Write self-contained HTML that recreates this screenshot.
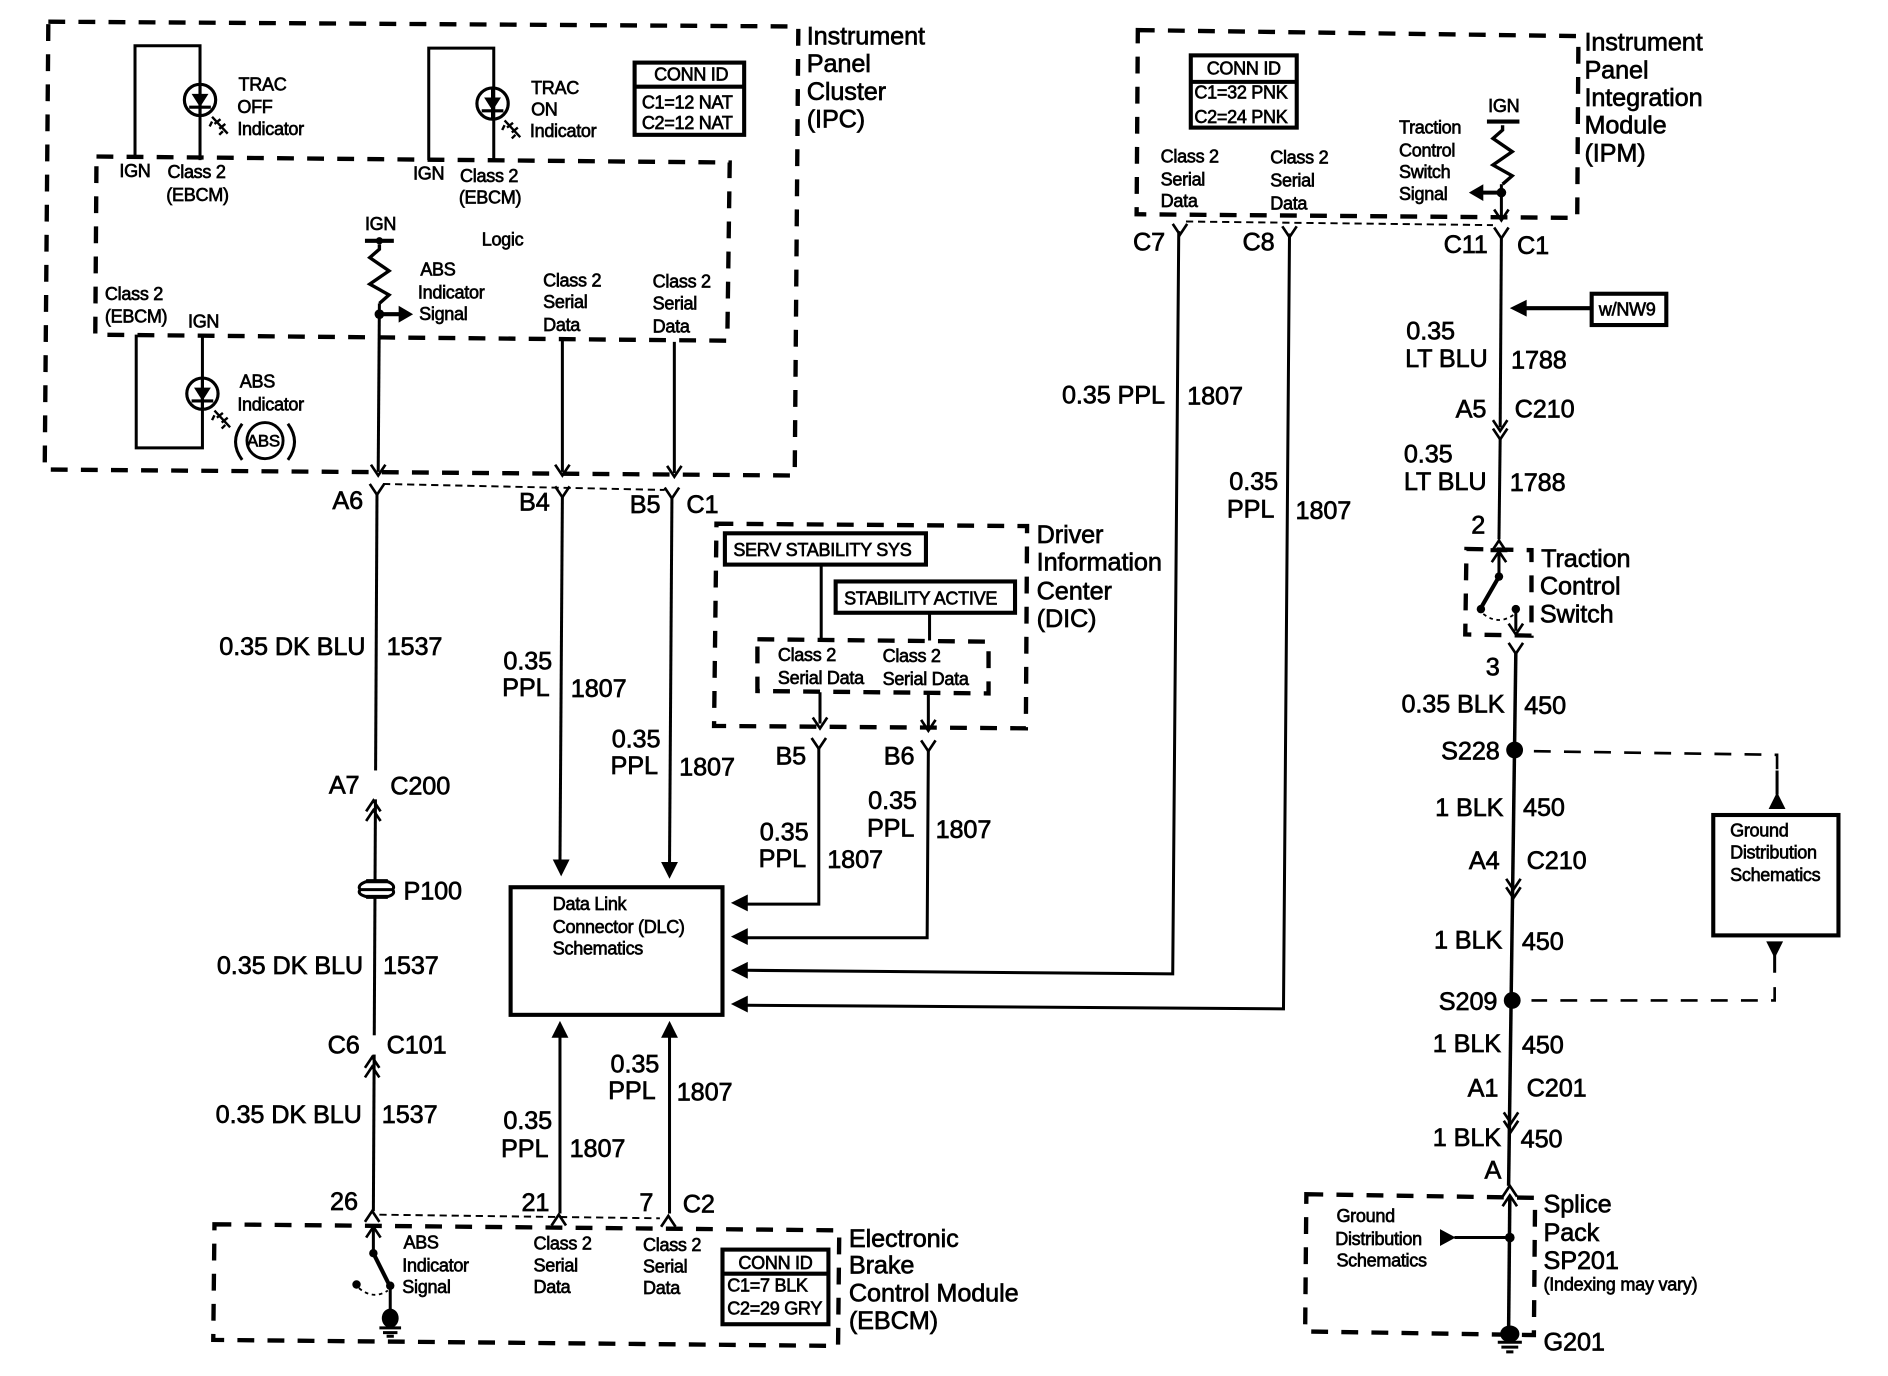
<!DOCTYPE html>
<html><head><meta charset="utf-8"><style>
html,body{margin:0;padding:0;background:#fff}
svg{display:block}
text{font-family:"Liberation Sans",sans-serif;fill:#000;stroke:#000;stroke-width:.55}
.l text{font-size:21px;letter-spacing:-.1px}
.s text{font-size:15px;letter-spacing:-.25px}
.w{fill:none;stroke:#000;stroke-width:2.5}
.t{fill:none;stroke:#000;stroke-width:3.4}
.r{fill:none;stroke:#000;stroke-width:2.9}
.d{fill:none;stroke:#000;stroke-width:3.6;stroke-dasharray:14 11}
.dn{fill:none;stroke:#000;stroke-width:1.6;stroke-dasharray:6 4}
.dm{fill:none;stroke:#000;stroke-width:2.2;stroke-dasharray:14 11}
.b{fill:#000}
</style></head><body>
<svg width="1888" height="1376" viewBox="0 0 1568 1143" xmlns="http://www.w3.org/2000/svg">
<defs>
<path id="y" d="M-6,-8 L0,1 L6,-8" fill="none" stroke="#000" stroke-width="2.2"/>
<path id="u" d="M-6,7 L0,-2 L6,7" fill="none" stroke="#000" stroke-width="2.2"/>
<path id="v" d="M-6,-8 L0,1 L6,-8" fill="none" stroke="#000" stroke-width="2.2"/>
<path id="au" d="M0,0 L-7,14 L7,14Z" fill="#000"/>
<g id="led" fill="none" stroke="#000" stroke-width="2.6">
<circle r="13"/><path d="M-7,-5 L7,-5 L0,6Z" fill="#000" stroke="none"/><path d="M-9,6 L9,6"/><path d="M0,-13V13"/>
</g>
<g id="ray" fill="none" stroke="#000" stroke-width="2"><path d="M0,0 L13,14 M2,6 L7,2 M6,10 L11,6 M0,4 L-2,8 M9,12 L6,15"/></g>
<path id="res" d="M0,0 L0,4 L-8,11 L8,22 L-8,33 L8,42 L0,49" fill="none" stroke="#000" stroke-width="2.8"/>
</defs>

<!-- dashed boxes -->
<path class="d" d="M40,18 L663,22 L660,395 L37,390Z"/>
<path class="d" d="M80,130 L606,135 L604,283 L79,278Z"/>
<path class="d" d="M945,25 L1311,30 L1310,181 L944,178Z"/>
<path class="d" d="M595,435 L853,437 L852,605 L593,603Z"/>
<path class="d" d="M629,531 L821,533 L821,576 L629,574Z"/>
<path class="d" d="M1218,456 L1272,457 L1272,528 L1217,527Z"/>
<path class="d" d="M178,1017 L697,1022 L696,1118 L177,1113Z"/>
<path class="d" d="M1085,992 L1275,995 L1274,1109 L1084,1106Z"/>
<path class="dn" d="M318,402 L552,407"/>
<path class="dn" d="M985,184 L1240,187"/>
<path class="dn" d="M315,1009 L548,1012"/>
<path class="dm" d="M1274,624 L1476,627 L1476,640"/>
<path class="dm" d="M1474,820 L1474,831 L1272,831"/>

<!-- IPC content -->
<path class="w" d="M112,130 V38 H166 V133"/>
<path class="w" d="M356,133 V40 H410 V133"/>
<use href="#led" x="166" y="83"/><use href="#ray" x="176" y="97"/>
<use href="#led" x="409" y="86"/><use href="#ray" x="419" y="100"/>
<path class="w" d="M113,278 V372 H168 V280"/>
<use href="#led" x="168" y="327"/><use href="#ray" x="178" y="341"/>
<circle cx="220" cy="366" r="15" fill="none" stroke="#000" stroke-width="2.4"/>
<path class="w" d="M201,352 Q190,367 201,382 M239,352 Q250,367 239,382"/>
<rect x="527" y="52" width="91" height="60" class="t" fill="none"/><path class="t" d="M527,72 H618"/>
<path class="t" d="M303,200 H327"/><circle cx="315" cy="200" r="3" class="b"/>
<use href="#res" x="315" y="203"/>
<circle cx="315" cy="261" r="4" class="b"/>
<path class="t" d="M315,261 H332"/><path class="b" d="M343,261 L331,254 V268Z"/>
<path class="w" d="M315,252 L314,392"/><use href="#v" x="314" y="394"/>
<path class="w" d="M467,283 V392"/><use href="#v" x="467" y="394"/>
<path class="w" d="M560,284 V393"/><use href="#v" x="560" y="395"/>

<!-- left wires -->
<use href="#y" x="313" y="410"/><use href="#y" x="467" y="412"/><use href="#y" x="558" y="413"/>
<path class="w" d="M313,410 L310,1006"/>
<rect x="300" y="640" width="20" height="24" fill="#fff"/>
<use href="#u" x="310" y="667"/><use href="#u" x="310" y="675"/>
<rect x="300" y="860" width="20" height="16" fill="#fff"/>
<use href="#u" x="309" y="880"/><use href="#u" x="309" y="888"/>
<rect x="298" y="733" width="30" height="11" fill="#fff"/>
<path class="t" d="M304,732 H322 M304,745 H322"/>
<path class="w" d="M305,732 Q296,735 299,739 H326 Q329,735 321,732 M305,745 Q296,743 299,739 M326,739 Q329,743 321,745"/>
<use href="#u" x="309" y="1008"/>
<path class="w" d="M467,412 L465,716"/><path class="b" d="M466,728 L459,714 H473Z"/>
<path class="w" d="M558,413 L556,718"/><path class="b" d="M556,730 L549,716 H563Z"/>
<rect x="424" y="737" width="176" height="106" fill="none" class="t"/>
<path class="w" d="M465,860 V1008"/><use href="#au" x="465" y="848"/>
<path class="w" d="M556,860 V1008"/><use href="#au" x="556" y="848"/>
<use href="#u" x="464" y="1011"/><use href="#u" x="555" y="1012"/>

<!-- DIC -->
<rect x="602" y="443" width="167" height="26" fill="#fff" class="t"/>
<rect x="694" y="483" width="149" height="26" fill="#fff" class="t"/>
<path class="w" d="M682,469 V530 M772,509 V532"/>
<path class="w" d="M681,575 V601 M771,577 V603"/><use href="#v" x="681" y="604"/><use href="#v" x="771" y="606"/>
<use href="#y" x="680" y="621"/><use href="#y" x="771" y="623"/>
<path class="w" d="M680,621 V751 H620"/><path class="b" d="M607,750 L621,743 V757Z"/>
<path class="w" d="M771,623 L770,779 H620"/><path class="b" d="M607,778 L621,771 V785Z"/>
<path class="w" d="M979,192 L974,809 L620,806"/><path class="b" d="M607,806 L621,799 V813Z"/>
<path class="w" d="M1071,194 L1066,838 L620,835"/><path class="b" d="M607,834 L621,827 V841Z"/>

<!-- IPM -->
<rect x="989" y="46" width="88" height="60" fill="none" class="t"/><path class="t" d="M989,68 H1077"/>
<path class="t" d="M1235,101 H1262"/><use href="#res" x="1248" y="104"/>
<circle cx="1247" cy="160" r="4" class="b"/>
<path class="t" d="M1230,160 H1247"/><path class="b" d="M1220,160 L1232,153 V167Z"/>
<path class="w" d="M1247,153 V180"/><use href="#v" x="1247" y="182"/>
<use href="#y" x="980" y="194"/><use href="#y" x="1071" y="196"/><use href="#y" x="1247" y="197"/>
<path class="w" d="M1247,197 L1246,355"/><use href="#v" x="1246" y="357"/><use href="#v" x="1246" y="364"/>
<rect x="1322" y="244" width="62" height="26" fill="none" class="t"/>
<path class="t" d="M1266,256 H1322"/><path class="b" d="M1254,256 L1268,249 V263Z"/>
<path class="w" d="M1246,364 L1245,448"/><use href="#u" x="1245" y="451"/>
<!-- switch -->
<path class="t" d="M1238,457 H1252"/><use href="#u" x="1245" y="460"/>
<path class="w" d="M1245,458 V478"/><circle cx="1245" cy="479" r="3.5" class="b"/>
<path class="t" d="M1245,479 L1230,505"/><circle cx="1230" cy="506" r="3.5" class="b"/>
<path d="M1232,510 Q1245,520 1258,510" fill="none" stroke="#000" stroke-width="1.5" stroke-dasharray="3 3"/>
<circle cx="1259" cy="506" r="3.5" class="b"/><path class="w" d="M1259,506 V524"/><use href="#v" x="1259" y="526"/>
<use href="#y" x="1259" y="542"/>
<path class="r" d="M1259,542 L1253,985"/>
<use href="#v" x="1257" y="738"/><use href="#v" x="1257" y="745"/>
<use href="#v" x="1255" y="932"/><use href="#v" x="1255" y="939"/>
<circle cx="1258" cy="623" r="7" class="b"/><circle cx="1256" cy="831" r="7" class="b"/>
<rect x="1423" y="677" width="104" height="100" fill="none" class="t"/>
<path class="w" d="M1476,640 V660 M1474,792 V808"/><path class="b" d="M1476,658 L1469,672 H1483Z"/><path class="b" d="M1474,796 L1467,782 H1481Z"/>
<use href="#u" x="1254" y="987"/><use href="#u" x="1254" y="995"/>
<path class="r" d="M1254,995 L1253,1105"/>
<circle cx="1254" cy="1028" r="4" class="b"/><path class="w" d="M1208,1028 H1254"/><path class="b" d="M1209,1028 L1196,1021 V1035Z"/>
<ellipse cx="1254" cy="1108" rx="8" ry="7" class="b"/>
<path class="w" d="M1244,1115 H1264 M1247,1119 H1261 M1251,1123 H1257"/>

<!-- EBCM -->
<rect x="600" y="1038" width="88" height="62" fill="none" class="t"/><path class="t" d="M600,1058 H688"/>
<use href="#u" x="310" y="1021"/><path class="w" d="M310,1019 V1040"/><circle cx="310" cy="1041" r="3.5" class="b"/>
<path class="t" d="M310,1041 L323,1067"/><circle cx="324" cy="1068" r="3.5" class="b"/><circle cx="296" cy="1067" r="3.5" class="b"/>
<path d="M298,1070 Q310,1080 322,1072" fill="none" stroke="#000" stroke-width="1.5" stroke-dasharray="3 3"/>
<path class="w" d="M324,1068 V1092"/><ellipse cx="324" cy="1095" rx="7" ry="8" class="b"/>
<path class="w" d="M315,1103 H333 M318,1107 H330 M321,1110 H327"/>

<g class="l">
<text x="670" y="37">Instrument</text><text x="670" y="60">Panel</text><text x="670" y="83">Cluster</text><text x="670" y="106">(IPC)</text>
<text x="1316" y="42">Instrument</text><text x="1316" y="65">Panel</text><text x="1316" y="88">Integration</text><text x="1316" y="111">Module</text><text x="1316" y="134">(IPM)</text>
<text x="861" y="451">Driver</text><text x="861" y="474">Information</text><text x="861" y="498">Center</text><text x="861" y="521">(DIC)</text>
<text x="705" y="1036">Electronic</text><text x="705" y="1058">Brake</text><text x="705" y="1081">Control Module</text><text x="705" y="1104">(EBCM)</text>
<text x="1280" y="471">Traction</text><text x="1279" y="494">Control</text><text x="1279" y="517">Switch</text>
<text x="1282" y="1007">Splice</text><text x="1282" y="1031">Pack</text><text x="1282" y="1054">SP201</text><text x="1282" y="1122">G201</text>
<text x="276" y="423">A6</text><text x="431" y="424">B4</text><text x="523" y="426">B5</text><text x="570" y="426">C1</text>
<text x="182" y="544">0.35 DK BLU</text><text x="321" y="544">1537</text>
<text x="273" y="659">A7</text><text x="324" y="660">C200</text><text x="335" y="747">P100</text>
<text x="180" y="809">0.35 DK BLU</text><text x="318" y="809">1537</text>
<text x="272" y="875">C6</text><text x="321" y="875">C101</text>
<text x="179" y="933">0.35 DK BLU</text><text x="317" y="933">1537</text>
<text x="274" y="1005">26</text><text x="433" y="1006">21</text><text x="531" y="1006">7</text><text x="567" y="1007">C2</text>
<text x="418" y="556">0.35</text><text x="417" y="578">PPL</text><text x="474" y="579">1807</text>
<text x="508" y="621">0.35</text><text x="507" y="643">PPL</text><text x="564" y="644">1807</text>
<text x="418" y="938">0.35</text><text x="416" y="961">PPL</text><text x="473" y="961">1807</text>
<text x="507" y="891">0.35</text><text x="505" y="913">PPL</text><text x="562" y="914">1807</text>
<text x="644" y="635">B5</text><text x="734" y="635">B6</text>
<text x="631" y="698">0.35</text><text x="630" y="720">PPL</text><text x="687" y="721">1807</text>
<text x="721" y="672">0.35</text><text x="720" y="695">PPL</text><text x="777" y="696">1807</text>
<text x="941" y="208">C7</text><text x="1032" y="208">C8</text>
<text x="882" y="335">0.35 PPL</text><text x="986" y="336">1807</text>
<text x="1021" y="407">0.35</text><text x="1019" y="430">PPL</text><text x="1076" y="431">1807</text>
<text x="1199" y="210">C11</text><text x="1260" y="211">C1</text>
<text x="1168" y="282">0.35</text><text x="1167" y="305">LT BLU</text><text x="1255" y="306">1788</text>
<text x="1209" y="347">A5</text><text x="1258" y="347">C210</text>
<text x="1166" y="384">0.35</text><text x="1166" y="407">LT BLU</text><text x="1254" y="408">1788</text>
<text x="1222" y="443">2</text><text x="1234" y="561">3</text>
<text x="1164" y="592">0.35 BLK</text><text x="1266" y="593">450</text>
<text x="1197" y="631">S228</text>
<text x="1192" y="678">1 BLK</text><text x="1265" y="678">450</text>
<text x="1220" y="722">A4</text><text x="1268" y="722">C210</text>
<text x="1191" y="788">1 BLK</text><text x="1264" y="789">450</text>
<text x="1195" y="839">S209</text>
<text x="1190" y="874">1 BLK</text><text x="1264" y="875">450</text>
<text x="1219" y="911">A1</text><text x="1268" y="911">C201</text>
<text x="1190" y="952">1 BLK</text><text x="1263" y="953">450</text>
<text x="1233" y="979">A</text>
</g>

<g class="s">
<text x="198" y="75">TRAC</text><text x="197" y="94">OFF</text><text x="197" y="112">Indicator</text>
<text x="99" y="147">IGN</text><text x="139" y="148">Class 2</text><text x="138" y="167">(EBCM)</text>
<text x="441" y="78">TRAC</text><text x="441" y="96">ON</text><text x="440" y="114">Indicator</text>
<text x="343" y="149">IGN</text><text x="382" y="151">Class 2</text><text x="381" y="169">(EBCM)</text>
<text x="574" y="67" text-anchor="middle">CONN ID</text><text x="533" y="90">C1=12 NAT</text><text x="533" y="107">C2=12 NAT</text>
<text x="303" y="191">IGN</text><text x="400" y="204">Logic</text>
<text x="349" y="229">ABS</text><text x="347" y="248">Indicator</text><text x="348" y="266">Signal</text>
<text x="451" y="238">Class 2</text><text x="451" y="256">Serial</text><text x="451" y="275">Data</text>
<text x="542" y="239">Class 2</text><text x="542" y="257">Serial</text><text x="542" y="276">Data</text>
<text x="87" y="249">Class 2</text><text x="87" y="268">(EBCM)</text><text x="156" y="272">IGN</text>
<text x="199" y="322">ABS</text><text x="197" y="341">Indicator</text><text x="205" y="371" style="font-size:14px">ABS</text>
<text x="459" y="756">Data Link</text><text x="459" y="775">Connector (DLC)</text><text x="459" y="793">Schematics</text>
<text x="609" y="462">SERV STABILITY SYS</text><text x="701" y="502">STABILITY ACTIVE</text>
<text x="646" y="549">Class 2</text><text x="646" y="568">Serial Data</text><text x="733" y="550">Class 2</text><text x="733" y="569">Serial Data</text>
<text x="1033" y="62" text-anchor="middle">CONN ID</text><text x="992" y="82">C1=32 PNK</text><text x="992" y="102">C2=24 PNK</text>
<text x="964" y="135">Class 2</text><text x="964" y="154">Serial</text><text x="964" y="172">Data</text>
<text x="1055" y="136">Class 2</text><text x="1055" y="155">Serial</text><text x="1055" y="174">Data</text>
<text x="1162" y="111">Traction</text><text x="1162" y="130">Control</text><text x="1162" y="148">Switch</text><text x="1162" y="166">Signal</text>
<text x="1236" y="93">IGN</text><text x="1328" y="262">w/NW9</text>
<text x="1437" y="695">Ground</text><text x="1437" y="713">Distribution</text><text x="1437" y="732">Schematics</text>
<text x="1110" y="1015">Ground</text><text x="1109" y="1034">Distribution</text><text x="1110" y="1052">Schematics</text>
<text x="1282" y="1072" style="font-size:15px;letter-spacing:-.2px">(Indexing may vary)</text>
<text x="335" y="1037">ABS</text><text x="334" y="1056">Indicator</text><text x="334" y="1074">Signal</text>
<text x="443" y="1038">Class 2</text><text x="443" y="1056">Serial</text><text x="443" y="1074">Data</text>
<text x="534" y="1039">Class 2</text><text x="534" y="1057">Serial</text><text x="534" y="1075">Data</text>
<text x="644" y="1054" text-anchor="middle">CONN ID</text><text x="604" y="1073">C1=7 BLK</text><text x="604" y="1092">C2=29 GRY</text>
</g>
</svg>
</body></html>
